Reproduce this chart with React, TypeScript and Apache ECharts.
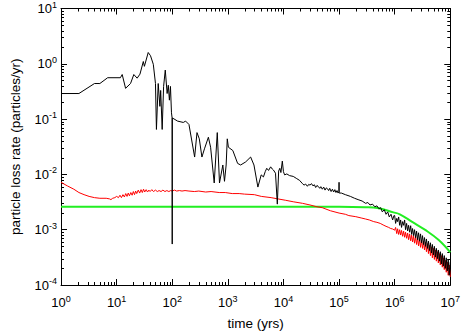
import React, { useEffect, useRef } from "react";
import * as echarts from "echarts";

// ---------- data ----------
// black: total particle loss rate [time (yrs), rate (particles/yr)]
const blackSeries: [number, number][] = [
  [1, 0.29], [2.1, 0.29], [4, 0.44], [5, 0.44], [6.9, 0.56], [11.7, 0.56], [12.6, 0.64], [14.5, 0.36],
  [17.8, 0.44], [20.4, 0.64], [23.4, 0.55], [26.3, 0.65], [30.2, 1.1], [31.6, 0.9], [37, 1.6], [40.7, 1.4],
  [45.7, 0.98], [50, 0.44], [52, 0.065], [56, 0.44], [60, 0.17], [62, 0.33], [66, 0.065], [70, 0.39],
  [75, 0.77], [81, 0.29], [85, 0.41], [89, 0.22], [93, 0.39], [97, 0.13], [99.5, 0.105], [100, 0.00055],
  [100.5, 0.105], [125, 0.092], [158, 0.087], [174, 0.092], [200, 0.08], [253, 0.0206], [279, 0.057],
  [307, 0.044], [342, 0.0206], [380, 0.029], [447, 0.047], [490, 0.031], [569, 0.007], [646, 0.057],
  [708, 0.007], [813, 0.0148], [871, 0.0075], [933, 0.0148], [977, 0.044], [1023, 0.031], [1230, 0.027],
  [1500, 0.0158], [1700, 0.0148], [2090, 0.0168], [2570, 0.0206], [2950, 0.0148], [3470, 0.0059],
  [3980, 0.0098], [4370, 0.009], [4700, 0.0112], [5010, 0.0129], [5400, 0.0118], [5890, 0.0137],
  [6300, 0.0125], [6610, 0.012], [7200, 0.0105], [7760, 0.0029], [8200, 0.0115], [8610, 0.0129],
  [9000, 0.0108], [9550, 0.0174], [10000, 0.0112], [10500, 0.0098], [11500, 0.0102], [12900, 0.0095],
  [15000, 0.0092], [17000, 0.0085], [19500, 0.0078], [22000, 0.0068], [23500, 0.0064], [25000, 0.0067],
  [27000, 0.0061], [28500, 0.0066], [30000, 0.0064], [32000, 0.0068], [34000, 0.0062], [36000, 0.0065],
  [38000, 0.0058], [40000, 0.0063], [42000, 0.0061], [45000, 0.0056], [47000, 0.006], [50000, 0.0054],
  [53000, 0.0059], [56000, 0.0052], [59000, 0.0057], [62000, 0.0055], [65000, 0.0051], [68000, 0.0056],
  [72000, 0.0049], [76000, 0.0054], [80000, 0.0048], [84000, 0.0053], [88000, 0.0047], [92000, 0.0051],
  [96000, 0.0046], [99500, 0.0049], [100000, 0.0072], [100500, 0.0046], [110000, 0.0046],
  [130000, 0.0043], [160000, 0.004], [190000, 0.0037], [220000, 0.0035], [260000, 0.0033],
  [300000, 0.003], [330000, 0.0031], [360000, 0.0028], [400000, 0.0029], [440000, 0.0026],
  [480000, 0.0027], [520000, 0.0024], [560000, 0.0025], [600000, 0.0021], [650000, 0.0023],
  [700000, 0.0019], [750000, 0.0021], [800000, 0.0017], [860000, 0.0019], [920000, 0.0015],
  [970000, 0.0018], [1000000, 0.0018], [1040000, 0.0013], [1090000, 0.0016], [1130000, 0.0014],
  [1180000, 0.0017], [1230000, 0.0012], [1280000, 0.0015], [1330000, 0.0011], [1390000, 0.0014],
  [1450000, 0.0012], [1510000, 0.0015], [1570000, 0.001], [1640000, 0.0013], [1710000, 0.00095],
  [1780000, 0.0012], [1860000, 0.0009], [1940000, 0.00118], [2020000, 0.00082], [2100000, 0.00105],
  [2190000, 0.00078], [2280000, 0.001], [2380000, 0.00072], [2480000, 0.00094], [2580000, 0.00066],
  [2690000, 0.00088], [2800000, 0.00062], [2920000, 0.00084], [3040000, 0.00058], [3170000, 0.00078],
  [3300000, 0.00054], [3440000, 0.00072], [3580000, 0.0005], [3730000, 0.00068], [3890000, 0.00046],
  [4050000, 0.00062], [4220000, 0.00042], [4400000, 0.00058], [4580000, 0.00038], [4770000, 0.00054],
  [4970000, 0.00035], [5180000, 0.0005], [5400000, 0.00032], [5620000, 0.00046], [5860000, 0.0003],
  [6100000, 0.00043], [6360000, 0.00027], [6620000, 0.0004], [6900000, 0.00024], [7190000, 0.00037],
  [7490000, 0.00022], [7800000, 0.00034], [8130000, 0.0002], [8470000, 0.00031], [8820000, 0.00018],
  [9190000, 0.00029], [9570000, 0.00015], [10000000, 0.00026],
];

// red: loss rate of second population
const redSeries: [number, number][] = [
  [1, 0.0072], [1.3, 0.0062], [1.7, 0.0054], [2.1, 0.0047], [2.6, 0.0043], [3.2, 0.004], [4, 0.0038],
  [5, 0.0037], [6.5, 0.0037], [7.5, 0.0036], [7.9, 0.0035], [8.5, 0.0037], [9.3, 0.0038], [10, 0.004],
  [10.8, 0.0038], [11.5, 0.0042], [12.2, 0.0038], [13, 0.0043], [13.8, 0.0039], [14.6, 0.0045],
  [15.4, 0.004], [16.2, 0.0046], [17, 0.0041], [18, 0.0047], [19, 0.0042], [20, 0.0049], [21, 0.0043],
  [22, 0.005], [23, 0.0045], [24.5, 0.0052], [26, 0.0046], [27.5, 0.0053], [29, 0.0047], [30.5, 0.0054],
  [32, 0.0048], [34, 0.0053], [36, 0.0048], [38, 0.0052], [40, 0.0049], [43, 0.0053], [46, 0.0049],
  [50, 0.0052], [54, 0.0049], [58, 0.0051], [63, 0.0049], [68, 0.0052], [74, 0.0049], [80, 0.0051],
  [87, 0.0049], [94, 0.0051], [100, 0.005], [110, 0.0052], [120, 0.005], [135, 0.0051], [150, 0.005],
  [170, 0.0051], [200, 0.005], [250, 0.0049], [300, 0.005], [400, 0.0048], [500, 0.0049], [700, 0.0047],
  [900, 0.0047], [1200, 0.0045], [1600, 0.0045], [2000, 0.0044], [3000, 0.0043], [4000, 0.004],
  [6000, 0.0038], [8000, 0.0036], [11000, 0.0034], [15000, 0.0032], [22000, 0.003], [30000, 0.0028],
  [40000, 0.0026], [50000, 0.0025], [70000, 0.0022], [100000, 0.002], [130000, 0.0019],
  [150000, 0.0018], [200000, 0.00172], [250000, 0.00163], [300000, 0.00156], [350000, 0.0015],
  [420000, 0.0014], [480000, 0.00136], [550000, 0.0013], [620000, 0.00122], [700000, 0.00115],
  [780000, 0.0011], [850000, 0.00105], [920000, 0.00103], [1000000, 0.00098], [1040000, 0.0011],
  [1090000, 0.00085], [1130000, 0.00104], [1180000, 0.00082], [1230000, 0.001], [1280000, 0.0008],
  [1330000, 0.00097], [1390000, 0.00076], [1450000, 0.00094], [1510000, 0.00073], [1570000, 0.0009],
  [1640000, 0.0007], [1710000, 0.00087], [1780000, 0.00066], [1860000, 0.00084], [1940000, 0.00063],
  [2020000, 0.0008], [2100000, 0.0006], [2190000, 0.00077], [2280000, 0.00057], [2380000, 0.00074],
  [2480000, 0.00054], [2580000, 0.00071], [2690000, 0.00051], [2800000, 0.00068], [2920000, 0.00048],
  [3040000, 0.00065], [3170000, 0.00046], [3300000, 0.00062], [3440000, 0.00043], [3580000, 0.00059],
  [3730000, 0.0004], [3890000, 0.00056], [4050000, 0.00037], [4220000, 0.00052], [4400000, 0.00034],
  [4580000, 0.00049], [4770000, 0.00031], [4970000, 0.00046], [5180000, 0.00029], [5400000, 0.00043],
  [5620000, 0.00027], [5860000, 0.0004], [6100000, 0.00025], [6360000, 0.00037], [6620000, 0.00023],
  [6900000, 0.00034], [7190000, 0.00021], [7490000, 0.00031], [7800000, 0.00019], [8130000, 0.00028],
  [8470000, 0.00017], [8820000, 0.00026], [9190000, 0.00015], [9570000, 0.00023], [10000000, 0.00014],
];

// green: model curve
const greenSeries: [number, number][] = [
  [1, 0.0026], [10000, 0.0026], [100000, 0.0026], [300000, 0.00255], [490000, 0.00246],
  [950000, 0.00206], [1240000, 0.0019], [2100000, 0.00137], [3600000, 0.00098],
  [6200000, 0.00065], [10000000, 0.00039],
];

const xMajorTicks = [1, 10, 100, 1000, 10000, 100000, 1000000, 10000000];
const yMajorTicks = [0.0001, 0.001, 0.01, 0.1, 1, 10];
const minorMultipliers = [2, 3, 4, 5, 6, 7, 8, 9];

const FONT = "'Liberation Sans', Arial, Helvetica, sans-serif";

const xMinor: number[] = [];
xMajorTicks.slice(0, -1).forEach((d) => minorMultipliers.forEach((m) => xMinor.push(d * m)));
const yMinor: number[] = [];
yMajorTicks.slice(0, -1).forEach((d) => minorMultipliers.forEach((m) => yMinor.push(d * m)));

const expLabel = (v: number) => `{b|10}{s|${Math.round(Math.log10(v))}}`;
const rich = {
  b: { fontSize: 13, fontFamily: FONT, color: "#000" },
  s: { fontSize: 9, fontFamily: FONT, color: "#000", padding: [0, 0, 8, 0] },
};

export default function App() {
  const ref = useRef<HTMLDivElement>(null);
  useEffect(() => {
    if (!ref.current) return;
    const chart = echarts.init(ref.current, undefined, { renderer: "svg" });
    const baseX = {
      type: "log" as const,
      min: 1,
      max: 10000000,
      logBase: 10,
      splitNumber: 7,
      axisLine: { show: true, onZero: false, lineStyle: { color: "#000", width: 1 } },
      axisTick: { show: true, inside: true, length: 6, lineStyle: { color: "#000" } },
      splitLine: { show: false },
      minorTick: { show: false },
    };
    const baseY = {
      type: "log" as const,
      min: 0.0001,
      max: 10,
      logBase: 10,
      splitNumber: 5,
      axisLine: { show: true, onZero: false, lineStyle: { color: "#000", width: 1 } },
      axisTick: { show: true, inside: true, length: 6, lineStyle: { color: "#000" } },
      splitLine: { show: false },
      minorTick: { show: false },
    };
    const tickLine = (x1: number, y1: number, x2: number, y2: number) => ({
      type: "line",
      shape: { x1, y1, x2, y2 },
      style: { stroke: "#000", lineWidth: 1 },
      silent: true,
    });
    chart.setOption({
      animation: false,
      backgroundColor: "#fff",
      grid: { left: 52, right: 11, top: 3, bottom: 49 },
      xAxis: [
        {
          ...baseX,
          position: "bottom",
          name: "time (yrs)",
          nameLocation: "middle",
          nameGap: 31,
          nameTextStyle: { fontSize: 13.5, fontFamily: FONT, color: "#000" },
          axisLabel: { show: true, margin: 9, formatter: expLabel, rich },
        },
        { ...baseX, position: "top", axisLabel: { show: false } },
      ],
      yAxis: [
        {
          ...baseY,
          position: "left",
          name: "particle loss rate (particles/yr)",
          nameLocation: "middle",
          nameGap: 39,
          nameTextStyle: { fontSize: 13.5, fontFamily: FONT, color: "#000" },
          axisLabel: { show: true, margin: 4, formatter: expLabel, rich },
        },
        { ...baseY, position: "right", axisLabel: { show: false } },
      ],
      series: [
        {
          type: "custom",
          name: "xMinor",
          silent: true,
          xAxisIndex: 0,
          yAxisIndex: 0,
          data: xMinor.map((v) => [v, 1]),
          renderItem: (params: any, api: any) => {
            const cs = params.coordSys;
            const px = Math.round(api.coord([api.value(0), 1])[0]) + 0.5;
            const b = cs.y + cs.height;
            return {
              type: "group",
              children: [tickLine(px, b, px, b - 3), tickLine(px, cs.y, px, cs.y + 3)],
            };
          },
        },
        {
          type: "custom",
          name: "yMinor",
          silent: true,
          xAxisIndex: 0,
          yAxisIndex: 0,
          data: yMinor.map((v) => [1, v]),
          renderItem: (params: any, api: any) => {
            const cs = params.coordSys;
            const py = Math.round(api.coord([1, api.value(1)])[1]) + 0.5;
            const r = cs.x + cs.width;
            return {
              type: "group",
              children: [tickLine(cs.x, py, cs.x + 3, py), tickLine(r, py, r - 3, py)],
            };
          },
        },
        {
          type: "line",
          name: "green",
          data: greenSeries,
          smooth: 0.4,
          showSymbol: false,
          lineStyle: { color: "#22ee22", width: 2 },
          z: 3,
        },
        {
          type: "line",
          name: "red",
          data: redSeries,
          showSymbol: false,
          lineStyle: { color: "#ff0000", width: 1 },
          z: 4,
        },
        {
          type: "line",
          name: "black",
          data: blackSeries,
          showSymbol: false,
          lineStyle: { color: "#000", width: 1 },
          z: 5,
        },
      ],
    });
    return () => chart.dispose();
  }, []);
  return <div ref={ref} style={{ width: 463, height: 335, position: "absolute", left: 0, top: 0 }} />;
}
